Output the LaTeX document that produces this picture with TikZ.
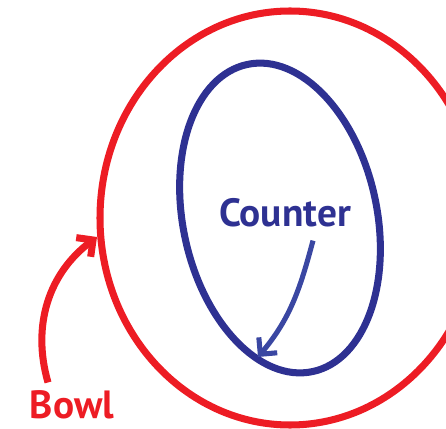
\documentclass[tikz,border=0pt]{standalone}
\usepackage{fontspec}
\setmainfont{PT Sans}
\usetikzlibrary{arrows.meta}
\definecolor{bowlred}{HTML}{ED1C24}
\definecolor{counterblue}{HTML}{2E3192}
\definecolor{arrowblue}{HTML}{3A47A2}
\begin{document}
\begin{tikzpicture}[x=0.025cm,y=0.025cm,
  tag/.style={font=\fontsize{28}{32}\selectfont\bfseries,inner sep=0pt},
  ring/.style={line width=5pt},
  pointer/.style={line width=3.6pt,-{Straight Barb[length=3mm,width=6mm]}}]
  \useasboundingbox (0,0) rectangle (446,428);
  \clip (0,0) rectangle (446,428);
  \draw[ring,bowlred] (290,210) ellipse [x radius=190,y radius=207];
  \draw[ring,counterblue,rotate around={12:(280,210)}] (280,210) ellipse [x radius=97,y radius=157];

  \node[tag,text=counterblue] (counter) at (285,215) {Counter};
  \node[tag,text=bowlred] (bowl) at (72,23) {Bowl};

  \coordinate (counter tip) at (258,71);
  \coordinate (bowl tip) at (97,191);
  \draw[pointer,arrowblue] ([shift={(28,-13)}]counter.south) to[out=255,in=50] (counter tip);
  \draw[pointer,bowlred,line width=5pt] ([shift={(-24,8)}]bowl.north) to[out=106,in=217] (bowl tip);
\end{tikzpicture}
\end{document}
